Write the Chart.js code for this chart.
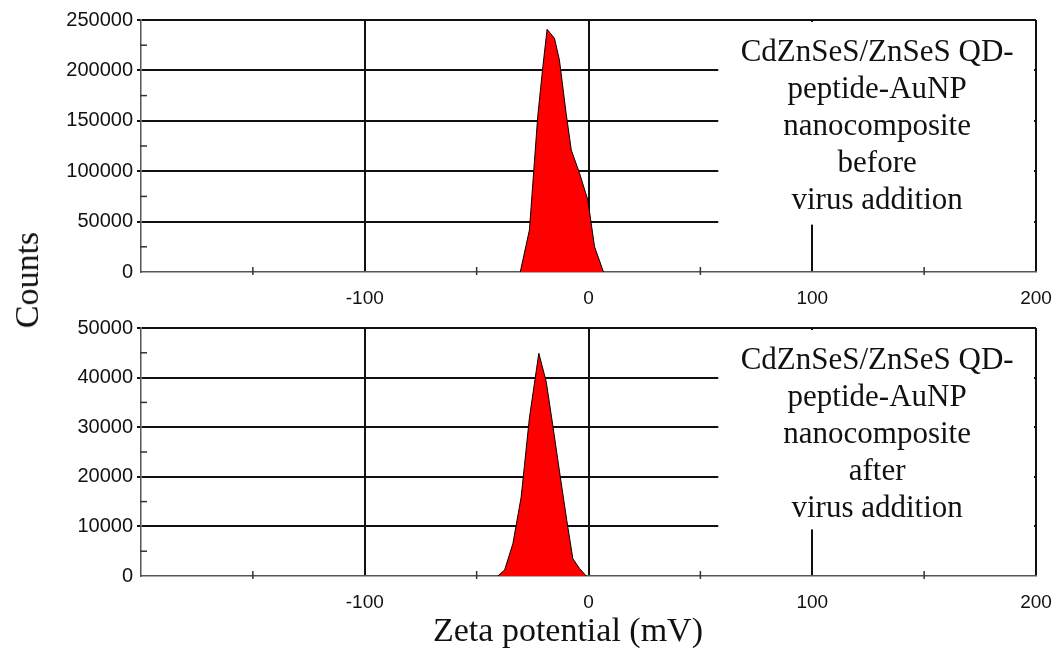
<!DOCTYPE html>
<html>
<head>
<meta charset="utf-8">
<script src="https://cdn.jsdelivr.net/npm/chart.js@4"></script>
<style>
  body { margin: 0; background: #fff; }
  #wrap { position: relative; width: 1057px; height: 657px; }
  canvas { position: absolute; left: 0; }
  .lbl { position: absolute; font-family: "Liberation Serif", "Times New Roman", serif; font-size: 34px; color: #111; white-space: nowrap; }
</style>
</head>
<body>
<div id="wrap">
  <canvas id="chartTop" width="1057" height="312" style="top:0"></canvas>
  <canvas id="chartBot" width="1057" height="345" style="top:312px"></canvas>
  <div class="lbl" style="left:27px; top:280px; transform:translate(-50%,-50%) rotate(-90deg);">Counts</div>
  <div class="lbl" style="left:568px; top:630px; transform:translate(-50%,-50%);">Zeta potential (mV)</div>
</div>
<script>
// zeta potential (mV) vs counts
var topX = [-30.5, -26.4, -22.7, -20.4, -18.5, -15.2, -13.0, -10.0, -7.7, -4.0, -0.3, 2.7, 6.7];
var topY = [0, 41700, 154000, 203700, 240800, 231800, 210300, 157400, 121000, 97900, 71400, 25100, 0];
var botX = [-40.5, -37.5, -33.8, -30.1, -26.4, -22.2, -18.9, -16.0, -13.0, -9.7, -7.0, -4.0, -1.0];
var botY = [0, 1200, 6500, 15900, 31900, 44900, 39200, 30500, 21200, 11200, 3500, 1500, 0];

var xMin = -200, xMax = 200, xStep = 100;
var topMax = 250000, topStep = 50000;
var botMax = 50000, botStep = 10000;

var topNote = ["CdZnSeS/ZnSeS QD-", "peptide-AuNP", "nanocomposite", "before", "virus addition"];
var botNote = ["CdZnSeS/ZnSeS QD-", "peptide-AuNP", "nanocomposite", "after", "virus addition"];

var xFont = { family: "'Liberation Sans', Arial, sans-serif", size: 19 };
var yFont = { family: "'Liberation Sans', Arial, sans-serif", size: 20 };

function pts(xs, ys) {
  var out = [];
  for (var i = 0; i < xs.length; i++) out.push({ x: xs[i], y: ys[i] });
  return out;
}

// minor ticks + white note box with text
var extras = {
  id: 'extras',
  afterDraw: function (chart) {
    var c = chart.ctx, a = chart.chartArea;
    var xs = chart.scales.x, ys = chart.scales.y;
    var o = chart.options.plugins.extras;
    c.save();
    c.strokeStyle = '#333';
    c.lineWidth = 1.5;
    for (var v = xMin + xStep / 2; v < xMax; v += xStep) {
      var px = xs.getPixelForValue(v);
      c.beginPath(); c.moveTo(px, a.bottom + 3); c.lineTo(px, a.bottom - 5); c.stroke();
    }
    for (var w = o.step / 2; w < o.max; w += o.step) {
      var py = ys.getPixelForValue(w);
      c.beginPath(); c.moveTo(a.left - 1, py); c.lineTo(a.left + 6, py); c.stroke();
    }
    // note box
    var bx = xs.getPixelForValue(58), bx2 = a.right - 2;
    var by = a.top + 2, by2 = ys.getPixelForValue(o.max * 0.2) + 3;
    c.fillStyle = '#fff';
    c.fillRect(bx, by, bx2 - bx, by2 - by);
    c.fillStyle = '#111';
    c.font = "31px 'Liberation Serif', 'Times New Roman', serif";
    c.textAlign = 'center';
    c.textBaseline = 'middle';
    var cx = (bx + bx2) / 2 + 1;
    for (var i = 0; i < o.lines.length; i++) {
      c.fillText(o.lines[i], cx, a.top + 33 + 37 * i);
    }
    c.restore();
  }
};

function makeChart(id, xs, ys, yMax, yStep, note, padTop, xHeight) {
  return new Chart(document.getElementById(id), {
    type: 'line',
    data: {
      datasets: [{
        data: pts(xs, ys),
        borderColor: '#000',
        borderWidth: 1,
        backgroundColor: '#ff0000',
        fill: 'origin',
        pointRadius: 0,
        tension: 0
      }]
    },
    options: {
      responsive: false,
      animation: false,
      layout: { padding: { top: padTop, right: 21, left: 0, bottom: 0 } },
      plugins: {
        legend: { display: false },
        tooltip: { enabled: false },
        extras: { lines: note, max: yMax, step: yStep }
      },
      scales: {
        x: {
          type: 'linear',
          min: xMin, max: xMax,
          afterFit: function (s) { s.height = xHeight; s.paddingLeft = 0; s.paddingRight = 0; },
          ticks: {
            stepSize: xStep,
            padding: 15,
            color: '#111',
            font: xFont,
            maxRotation: 0,
            callback: function (v) { return v === xMin ? '' : String(v); }
          },
          grid: {
            drawTicks: false,
            lineWidth: 2,
            color: function (ctx) {
              return ctx.tick && ctx.tick.value === xMin ? 'rgba(0,0,0,0)' : '#111';
            }
          },
          border: { color: '#555', width: 1.5 }
        },
        y: {
          min: 0, max: yMax,
          afterFit: function (s) { s.width = 141; },
          ticks: {
            stepSize: yStep, padding: 4, color: '#111', font: yFont,
            callback: function (v) { return String(v); }
          },
          grid: {
            drawTicks: true,
            tickLength: 4,
            lineWidth: 2,
            color: function (ctx) {
              return ctx.tick && ctx.tick.value === 0 ? 'rgba(0,0,0,0)' : '#111';
            }
          },
          border: { color: '#555', width: 1.5 }
        }
      }
    },
    plugins: [extras]
  });
}

makeChart('chartTop', topX, topY, topMax, topStep, topNote, 20, 40);
makeChart('chartBot', botX, botY, botMax, botStep, botNote, 14, 81);
</script>
</body>
</html>
